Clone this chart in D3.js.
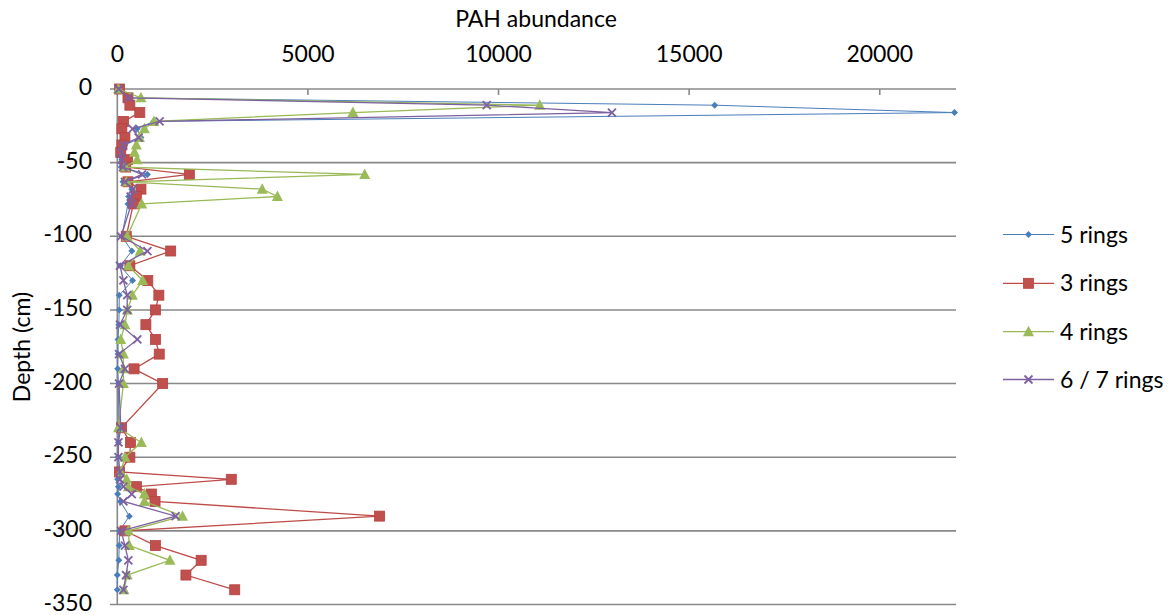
<!DOCTYPE html>
<html><head><meta charset="utf-8">
<script src="https://cdn.jsdelivr.net/npm/d3@7"></script>
<style>
html,body{margin:0;padding:0;background:#fff;}
svg text{font-family:Lato,"Open Sans",sans-serif;fill:#000;}
</style></head>
<body><svg id="c" width="1169" height="615"></svg>
<script>
const depths = [0,-6,-11,-16,-22,-27,-33,-38,-43,-48,-53,-58,-63,-68,-73,-78,-100,-110,-120,-130,-140,-150,-160,-170,-180,-190,-200,-230,-240,-250,-260,-265,-270,-275,-280,-290,-300,-310,-320,-330,-340];
const rings5 = [30,250,15670,21960,950,520,620,200,100,120,100,790,150,380,300,280,120,380,80,400,50,50,40,20,20,10,30,40,30,20,20,10,30,10,80,315,60,50,40,0,0];
const rings3 = [60,280,330,590,160,120,200,120,90,270,220,1890,280,620,500,420,235,1400,330,800,1090,1000,750,1000,1100,440,1190,110,345,330,60,2990,500,895,990,6880,200,1000,2200,1800,3080];
const rings4 = [30,620,11080,6180,960,710,580,500,450,520,200,6490,240,3800,4200,640,260,600,290,665,395,265,200,90,160,160,160,30,630,200,90,245,290,710,710,1710,290,315,1380,260,175];
const rings67 = [40,290,9690,12975,1110,400,560,150,110,110,150,650,200,410,350,370,100,790,70,160,260,260,70,525,45,200,45,90,30,30,70,70,160,380,160,1530,100,200,290,230,160];
const seriesNames = ["5 rings","3 rings","4 rings","6 / 7 rings"];
const xTicks = [0,5000,10000,15000,20000];
const yTicks = [0,-50,-100,-150,-200,-250,-300,-350];

const seriesData = [rings5, rings3, rings4, rings67];
const colors = ["#4a7ebb","#be4b48","#98b954","#7d60a0"];
const svg = d3.select("#c");
const x = d3.scaleLinear().domain([0,22000]).range([117.3,956]);
const y = d3.scaleLinear().domain([-350,0]).range([604.5,89]);

// gridlines
svg.append("g").selectAll("line").data(yTicks).join("line")
  .attr("x1",110).attr("x2",x(22000))
  .attr("y1",d=>y(d)).attr("y2",d=>y(d))
  .attr("stroke","#888").attr("stroke-width",1.6);
// y axis line
svg.append("line").attr("x1",x(0)).attr("x2",x(0)).attr("y1",y(0)).attr("y2",y(-350))
  .attr("stroke","#888").attr("stroke-width",1.6);
// x ticks (pointing down from top axis)
svg.append("g").selectAll("line").data(xTicks).join("line")
  .attr("x1",d=>x(d)).attr("x2",d=>x(d)).attr("y1",y(0)).attr("y2",y(0)+6)
  .attr("stroke","#888").attr("stroke-width",1.6);
// x tick labels
svg.append("g").selectAll("text").data(xTicks).join("text")
  .attr("x",d=>x(d)).attr("y",62).attr("text-anchor","middle")
  .attr("font-size",23).text(d=>d);
// y tick labels
svg.append("g").selectAll("text").data(yTicks).join("text")
  .attr("x",92).attr("y",d=>y(d)+6).attr("text-anchor","end")
  .attr("font-size",23).text(d=>d);
// titles
svg.append("text").attr("x",536).attr("y",27).attr("text-anchor","middle")
  .attr("font-size",23).text("PAH abundance");
svg.append("text").attr("transform","translate(30,347) rotate(-90)").attr("text-anchor","middle")
  .attr("font-size",23).text("Depth (cm)");

function marker(g, i, cx, cy){
  const c = colors[i];
  if(i===0){
    g.append("path").attr("d",`M${cx},${cy-3.5}L${cx+3.5},${cy}L${cx},${cy+3.5}L${cx-3.5},${cy}Z`).attr("fill",c);
  } else if(i===1){
    g.append("rect").attr("x",cx-5).attr("y",cy-5).attr("width",10).attr("height",10)
      .attr("fill","#c0504d").attr("stroke","#b8413e").attr("stroke-width",0.8);
  } else if(i===2){
    g.append("path").attr("d",`M${cx},${cy-6}L${cx+5.5},${cy+4.5}L${cx-5.5},${cy+4.5}Z`).attr("fill","#9bbb59");
  } else {
    g.append("path").attr("d",`M${cx-4},${cy-4}L${cx+4},${cy+4}M${cx-4},${cy+4}L${cx+4},${cy-4}`)
      .attr("stroke",c).attr("stroke-width",1.8).attr("fill","none");
  }
}

const line = d3.line().x(d=>x(d[1])).y(d=>y(d[0]));
seriesData.forEach((vals,i)=>{
  const pts = depths.map((d,j)=>[d, vals[j]]);
  const g = svg.append("g");
  g.append("path").datum(pts).attr("d",line).attr("fill","none")
    .attr("stroke",colors[i]).attr("stroke-width",i===0?1:1.3);
  pts.forEach(p=>marker(g,i,x(p[1]),y(p[0])));
});

// legend
const legY = [234.5,283.3,331.7,379.5];
seriesNames.forEach((n,i)=>{
  const g = svg.append("g");
  g.append("line").attr("x1",1003).attr("x2",1054).attr("y1",legY[i]).attr("y2",legY[i])
    .attr("stroke",colors[i]).attr("stroke-width",i===0?1:1.3);
  marker(g,i,1028.5,legY[i]);
  g.append("text").attr("x",1060).attr("y",legY[i]+8).attr("font-size",23).text(n);
});
</script></body></html>
